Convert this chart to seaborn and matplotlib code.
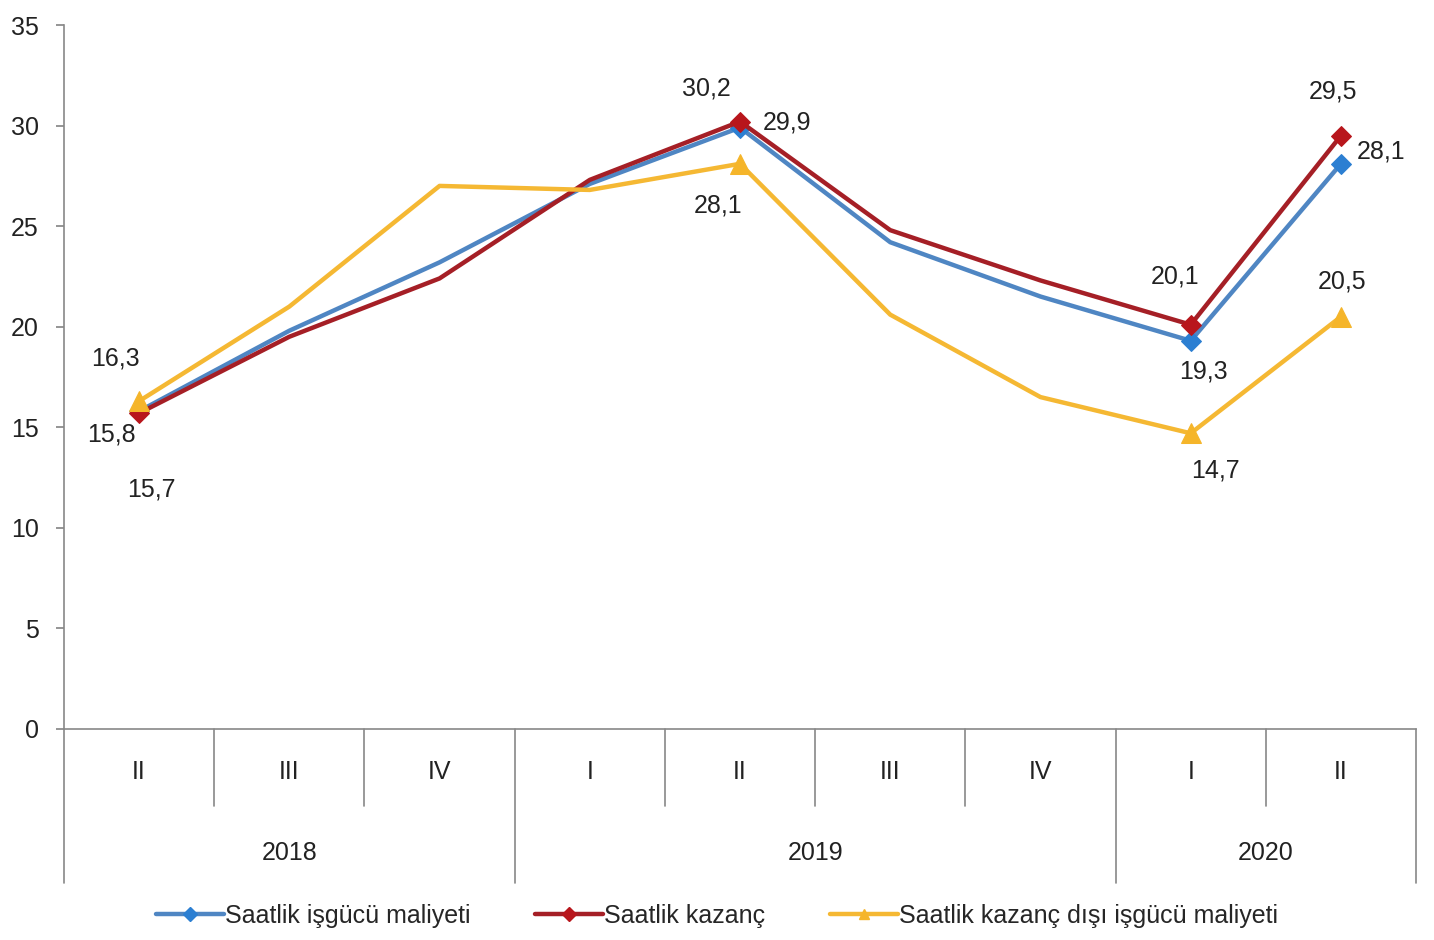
import numpy as np
import pandas as pd
import seaborn as sns
import matplotlib.pyplot as plt
from matplotlib.lines import Line2D
import matplotlib.transforms as mtransforms

# veriler
quarters = ["II", "III", "IV", "I", "II", "III", "IV", "I", "II"]
years = ["2018", "2019", "2020"]
year_span = [(0, 3), (3, 7), (7, 9)]  # her yilin ceyrek araligi

isgucu = [15.8, 19.8, 23.2, 27.1, 29.9, 24.2, 21.5, 19.3, 28.1]
kazanc = [15.7, 19.5, 22.4, 27.3, 30.2, 24.8, 22.3, 20.1, 29.5]
kazanc_disi = [16.3, 21.0, 27.0, 26.8, 28.1, 20.6, 16.5, 14.7, 20.5]

names = ["Saatlik işgücü maliyeti", "Saatlik kazanç", "Saatlik kazanç dışı işgücü maliyeti"]
labeled_idx = [0, 4, 7, 8]

sns.set_theme(style="white")
plt.rcParams['font.family'] = ['Liberation Sans', 'DejaVu Sans']
FS = 18

df = pd.DataFrame({"x": np.arange(len(quarters)),
                   names[0]: isgucu, names[1]: kazanc, names[2]: kazanc_disi})

line_col = ["#4F86C3", "#A51F26", "#F5B833"]
mark_col = ["#2C7FD2", "#B8161C", "#F5B52A"]
markers = ["D", "D", "^"]
msize = [10, 10, 14]

fig, ax = plt.subplots(figsize=(14.34, 9.40), dpi=100)
fig.subplots_adjust(left=0.0446, right=0.9875, bottom=0.2245, top=0.9734)

for i, n in enumerate(names):
    sns.lineplot(data=df, x="x", y=n, ax=ax, color=line_col[i], linewidth=3.2,
                 marker=markers[i], markersize=msize[i], markevery=labeled_idx,
                 markerfacecolor=mark_col[i], markeredgecolor=mark_col[i], legend=False)

# veri etiketleri
offsets = {
    (2, 0): (-17, 31), (0, 0): (-20, -17), (1, 0): (9, -55),
    (1, 4): (-24, 24), (0, 4): (34, 4), (2, 4): (-16, -30),
    (1, 7): (-11, 35), (0, 7): (9, -22), (2, 7): (18, -27),
    (1, 8): (-6, 32), (0, 8): (29, 9), (2, 8): (1, 25),
}
series = [isgucu, kazanc, kazanc_disi]
for (s, k), (dx, dy) in offsets.items():
    v = series[s][k]
    ax.annotate(f"{v:.1f}".replace(".", ","), (k, v), xytext=(dx, dy),
                textcoords="offset points", ha="center", va="center",
                fontsize=FS, color="#222222")

ax.set_xlim(-0.5, len(quarters) - 0.5)
ax.set_ylim(0, 35)
ax.set_yticks(range(0, 36, 5))
ax.set_xticks([])
ax.set_xlabel("")
ax.set_ylabel("")
ax.tick_params(axis="y", left=True, length=6, color="#888888", labelsize=FS,
               labelcolor="#222222", pad=12)
for sp in ["top", "right"]:
    ax.spines[sp].set_visible(False)
for sp in ["left", "bottom"]:
    ax.spines[sp].set_color("#888888")
    ax.spines[sp].set_linewidth(1.2)

# hiyerarsik x ekseni
trans = mtransforms.blended_transform_factory(ax.transData, ax.transAxes)
for k, q in enumerate(quarters):
    ax.text(k, -0.061, q, transform=trans, ha="center", va="center",
            fontsize=FS, color="#222222")
year_edges = set()
for (a, b), y in zip(year_span, years):
    ax.text((a + b - 1) / 2, -0.176, y, transform=trans, ha="center", va="center",
            fontsize=FS, color="#222222")
    year_edges.update([a - 0.5, b - 0.5])
for k in range(len(quarters) + 1):
    xe = k - 0.5
    y_end = -0.219 if xe in year_edges else -0.109
    ax.plot([xe, xe], [0, y_end], transform=trans, color="#888888",
            linewidth=1.2, clip_on=False)

handles = [Line2D([], [], color=line_col[i], linewidth=3.2, marker=markers[i],
                  markersize=7, markerfacecolor=mark_col[i], markeredgecolor=mark_col[i])
           for i in range(3)]
fig.legend(handles, names, loc="center", bbox_to_anchor=(0.5, 0.026), ncol=3,
           frameon=False, fontsize=FS, handlelength=2.7, handletextpad=0.05,
           columnspacing=2.6)

fig.savefig("out.png", dpi=100)
